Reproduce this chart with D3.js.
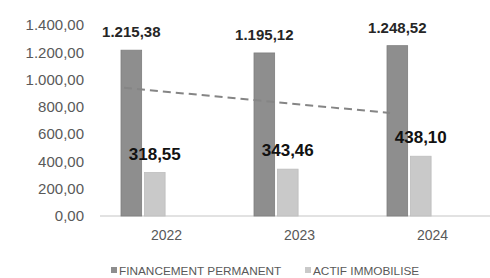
<!DOCTYPE html>
<html><head><meta charset="utf-8">
<script src="https://cdn.jsdelivr.net/npm/d3@7/dist/d3.min.js"></script>
<style>body{margin:0;background:#fff}svg{display:block}text{font-family:"Liberation Sans",Arial,sans-serif}</style>
</head><body><svg id="c" width="490" height="278"></svg>
<script>
const years = ["2022","2023","2024"];
const financement = [1215.38, 1195.12, 1248.52];
const actif = [318.55, 343.46, 438.10];
const trend = [940, 848, 755];
const yTicks = [0,200,400,600,800,1000,1200,1400];
const seriesNames = ["FINANCEMENT PERMANENT","ACTIF IMMOBILISE"];
const colors = ["#8e8e8e","#c9c9c9"];

const svg = d3.select("#c");
const loc = d3.formatLocale({decimal:",",thousands:".",grouping:[3],currency:["",""]});
const fmt = loc.format(",.2f");

const x0 = d3.scaleBand().domain(years).range([100,499]).padding(0);
const x1 = d3.scaleBand().domain(["a","b","c","d"]).range([21,112]).paddingInner(0.12);
const y = d3.scaleLinear().domain([0,1400]).range([216,25]);

// y axis labels
const ya = svg.append("g").attr("transform","translate(84,0)")
  .call(d3.axisLeft(y).tickValues(yTicks).tickFormat(fmt).tickSize(0).tickPadding(0));
ya.select(".domain").remove();
ya.selectAll("text").attr("fill","#595959").style("font-size","15px").style("font-family","Liberation Sans, Arial, sans-serif");

// baseline
svg.append("line").attr("x1",100).attr("x2",490).attr("y1",y(0)).attr("y2",y(0))
  .attr("stroke","#d9d9d9").attr("stroke-width",1.5);

// x labels
const xa = svg.append("g").attr("transform",`translate(0,${y(0)})`)
  .call(d3.axisBottom(x0).tickSize(0).tickPadding(14));
xa.select(".domain").remove();
xa.selectAll("text").attr("fill","#595959").style("font-size","14px").style("font-family","Liberation Sans, Arial, sans-serif");

const data = [financement, actif];
const keys = ["a","b"];
data.forEach((vals,si)=>{
  svg.append("g").selectAll("rect").data(vals).join("rect")
    .attr("x",(d,i)=>x0(years[i])+x1(keys[si]))
    .attr("width",x1.bandwidth())
    .attr("y",d=>y(d))
    .attr("height",d=>y(0)-y(d))
    .attr("fill",colors[si])
    .attr("stroke", si===0 ? "#7e7e7e" : "#bdbdbd").attr("stroke-width",0.8);
});

// trend line
const line = d3.line().x((d,i)=>x0(years[i])+24).y(d=>y(d));
svg.append("path").datum(trend).attr("d",line).attr("fill","none")
  .attr("stroke","#858585").attr("stroke-width",2).attr("stroke-dasharray","8,5");

// value labels
svg.append("g").selectAll("text").data(financement).join("text")
  .attr("x",(d,i)=>x0(years[i])+x1("a")+x1.bandwidth()/2)
  .attr("y",d=>y(d)-13)
  .attr("text-anchor","middle").attr("font-weight","bold").attr("fill","#262626")
  .style("font-size","15px").text(d=>fmt(d));
svg.append("g").selectAll("text").data(actif).join("text")
  .attr("x",(d,i)=>x0(years[i])+x1("b")+x1.bandwidth()/2)
  .attr("y",d=>y(d)-13)
  .attr("text-anchor","middle").attr("font-weight","bold").attr("fill","#111")
  .style("font-size","17px").text(d=>fmt(d));

// legend
const lx = [111,305];
seriesNames.forEach((n,i)=>{
  svg.append("rect").attr("x",lx[i]).attr("y",267).attr("width",6).attr("height",6).attr("fill",colors[i]);
  svg.append("text").attr("x",lx[i]+8).attr("y",275).attr("fill","#595959")
    .style("font-size","11.8px").text(n);
});
</script></body></html>
